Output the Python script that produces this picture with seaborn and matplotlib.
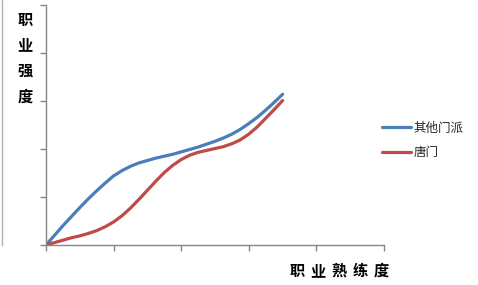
import matplotlib
matplotlib.use("Agg")
import matplotlib.pyplot as plt
import matplotlib.lines as mlines
import seaborn as sns
import pandas as pd

# ---- data ----
x_vals = [0, 0.125, 0.25, 0.375, 0.5, 0.625, 0.75, 0.875, 1.0, 1.125, 1.25, 1.375,
          1.5, 1.625, 1.75, 1.875, 2.0, 2.125, 2.25, 2.375, 2.5, 2.625, 2.75, 2.875,
          3.0, 3.125, 3.25, 3.375, 3.5]
other_sects = [0, 0.20, 0.40, 0.59, 0.78, 0.96, 1.13, 1.29, 1.44, 1.55, 1.64, 1.71,
               1.76, 1.81, 1.85, 1.89, 1.94, 1.99, 2.04, 2.10, 2.16, 2.23, 2.31, 2.41,
               2.53, 2.66, 2.81, 2.97, 3.14]
tangmen = [0, 0.05, 0.10, 0.15, 0.19, 0.24, 0.30, 0.38, 0.48, 0.61, 0.77, 0.95,
           1.14, 1.33, 1.51, 1.66, 1.78, 1.87, 1.93, 1.97, 2.01, 2.05, 2.11, 2.19,
           2.31, 2.46, 2.64, 2.82, 3.01]
series_names = ["其他门派", "唐门"]
x_ticks = [0, 1, 2, 3, 4, 5]
y_ticks = [0, 1, 2, 3, 4, 5]
y_label_chars = ["职", "业", "强", "度"]
x_label_chars = ["职", "业", "熟", "练", "度"]

df = pd.DataFrame({
    "x": x_vals * 2,
    "y": other_sects + tangmen,
    "series": [series_names[0]] * len(x_vals) + [series_names[1]] * len(x_vals),
})

sns.set_style("white")
plt.rcParams["font.family"] = ["Noto Sans CJK SC", "DejaVu Sans"]

W, H = 478, 285
fig = plt.figure(figsize=(W / 100, H / 100), dpi=100)
ax = fig.add_axes([46 / W, 1 - 245 / H, (384 - 46) / W, (245 - 5) / H])

palette = {series_names[0]: "#4A7EBB", series_names[1]: "#BE4B48"}
sns.lineplot(data=df, x="x", y="y", hue="series", palette=palette, ax=ax,
             linewidth=2.3, legend=False, sort=True)
for ln in ax.get_lines():
    ln.set_solid_joinstyle("round")
    ln.set_solid_capstyle("round")

ax.set_xlim(0, 5)
ax.set_ylim(0, 5)
ax.set_xticks(x_ticks)
ax.set_yticks(y_ticks)
ax.set_xticklabels([])
ax.set_yticklabels([])
ax.set_xlabel("")
ax.set_ylabel("")
for s in ["top", "right"]:
    ax.spines[s].set_visible(False)
for s in ["left", "bottom"]:
    ax.spines[s].set_color("#868686")
    ax.spines[s].set_linewidth(1.0)
ax.tick_params(axis="both", direction="out", length=4, width=1.0, color="#868686",
               bottom=True, left=True, top=False, right=False)
ax.grid(False)

# axis titles, drawn character by character like the original
for i, ch in enumerate(y_label_chars):
    fig.text(25 / W, 1 - (20 + i * 25.5) / H, ch, ha="center", va="center",
             fontsize=11, fontweight="bold", color="black")
x_centers = [297, 318, 339, 360, 381]
for cx, ch in zip(x_centers, x_label_chars):
    fig.text(cx / W, 1 - 271 / H, ch, ha="center", va="center",
             fontsize=11, fontweight="bold", color="black")

# legend
handles = [mlines.Line2D([], [], color=palette[n], linewidth=2.3) for n in series_names]
fig.legend(handles, series_names, loc="center left",
           bbox_to_anchor=(382 / W, 1 - 140.5 / H), frameon=False,
           fontsize=9, handlelength=2.3, handletextpad=0.2,
           labelspacing=0.95, borderpad=0, borderaxespad=0)

# faint chart border remnant at the left edge
fig.add_artist(mlines.Line2D([2 / W, 2 / W], [1 - 245 / H, 1.0],
                             color="#b0b0b0", linewidth=1.0))

fig.savefig("out.png", dpi=100)
